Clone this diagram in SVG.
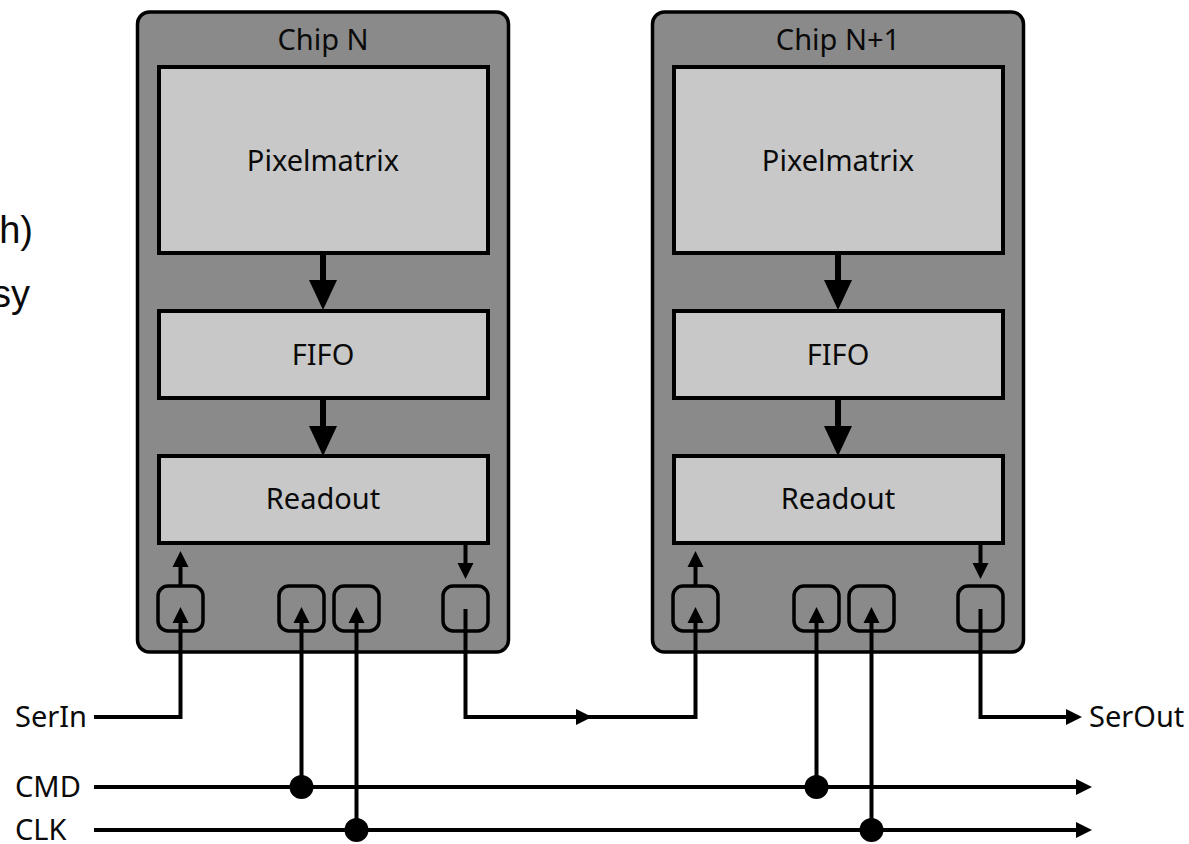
<svg xmlns="http://www.w3.org/2000/svg" width="1189" height="844" viewBox="0 0 1189 844">
<style>
.chip{fill:#8a8a8a;stroke:#000;stroke-width:3.5}
.blk{fill:#c8c8c8;stroke:#000;stroke-width:4}
.pad{fill:none;stroke:#000;stroke-width:3.5}
.t{font-family:"Noto Sans","Open Sans",sans-serif;font-size:29px;fill:#0a0a0a}
.tc{text-anchor:middle}
.frag{font-family:"Liberation Sans",Arial,sans-serif;font-size:38px;fill:#0a0a0a;text-anchor:end}
.w{fill:none;stroke:#000;stroke-width:4}
.wb{fill:none;stroke:#000;stroke-width:6;marker-end:url(#big)}
.ws{marker-end:url(#sm)}
</style>
<defs>
<marker id="sm" markerUnits="userSpaceOnUse" markerWidth="16" markerHeight="16" refX="4" refY="8" orient="auto" overflow="visible"><path d="M0,0 L16,8 L0,16 z" fill="#000"/></marker>
<marker id="big" markerUnits="userSpaceOnUse" markerWidth="30" markerHeight="28" refX="4" refY="14" orient="auto" overflow="visible"><path d="M0,0 L30,14 L0,28 z" fill="#000"/></marker>
</defs>
<rect width="1189" height="844" fill="#fff"/>
<g id="fragments">
<text class="frag" x="33" y="243">h)</text>
<text class="frag" x="30" y="307">sy</text>
</g>
<g id="chipN">
<rect class="chip" x="137.5" y="12" width="371" height="640" rx="12"/>
<text class="t tc" x="323" y="50">Chip N</text>
<g id="pixN"><rect class="blk" x="159" y="67" width="329" height="186"/><text class="t tc" x="323" y="171">Pixelmatrix</text></g>
<g id="fifoN"><rect class="blk" x="159" y="311" width="329" height="87"/><text class="t tc" x="323" y="365">FIFO</text></g>
<g id="roN"><rect class="blk" x="159" y="456" width="329" height="87"/><text class="t tc" x="323" y="509">Readout</text></g>
<rect class="pad" x="158" y="586" width="45" height="45" rx="10"/>
<rect class="pad" x="279" y="586" width="45" height="45" rx="10"/>
<rect class="pad" x="334" y="586" width="45" height="45" rx="10"/>
<rect class="pad" x="443" y="586" width="45" height="45" rx="10"/>
</g>
<g id="chipN1">
<rect class="chip" x="652.5" y="12" width="371" height="640" rx="12"/>
<text class="t tc" x="838" y="50">Chip N+1</text>
<g id="pixN1"><rect class="blk" x="674" y="67" width="329" height="186"/><text class="t tc" x="838" y="171">Pixelmatrix</text></g>
<g id="fifoN1"><rect class="blk" x="674" y="311" width="329" height="87"/><text class="t tc" x="838" y="365">FIFO</text></g>
<g id="roN1"><rect class="blk" x="674" y="456" width="329" height="87"/><text class="t tc" x="838" y="509">Readout</text></g>
<rect class="pad" x="673" y="586" width="45" height="45" rx="10"/>
<rect class="pad" x="794" y="586" width="45" height="45" rx="10"/>
<rect class="pad" x="849" y="586" width="45" height="45" rx="10"/>
<rect class="pad" x="958" y="586" width="45" height="45" rx="10"/>
</g>
<g id="labels">
<text class="t" x="15" y="727">SerIn</text>
<text class="t" x="15" y="797">CMD</text>
<text class="t" x="15" y="840">CLK</text>
<text class="t" x="1089" y="727">SerOut</text>
</g>
<g id="connectors">
<path class="wb" d="M323,255 V284"/>
<path class="wb" d="M323,400 V430"/>
<path class="wb" d="M838,255 V284"/>
<path class="wb" d="M838,400 V430"/>
<path class="w ws" d="M180.5,586 V563"/>
<path class="w ws" d="M465.5,545 V567"/>
<path class="w ws" d="M695.5,586 V563"/>
<path class="w ws" d="M980.5,545 V567"/>
<path class="w ws" d="M94,717 H180.5 V619"/>
<path class="w ws" d="M301.5,787 V619"/>
<path class="w ws" d="M356.5,830 V619"/>
<path class="w ws" d="M465.5,609 V717 H695.5 V619"/>
<path class="w ws" d="M560,717 H580"/>
<path class="w ws" d="M816.5,787 V619"/>
<path class="w ws" d="M871.5,830 V619"/>
<path class="w ws" d="M980.5,609 V717 H1070"/>
<path class="w ws" d="M94,787 H1080"/>
<path class="w ws" d="M94,830 H1080"/>
<circle cx="301.5" cy="787" r="12"/>
<circle cx="356.5" cy="830" r="12"/>
<circle cx="816.5" cy="787" r="12"/>
<circle cx="871.5" cy="830" r="12"/>
</g>
</svg>
